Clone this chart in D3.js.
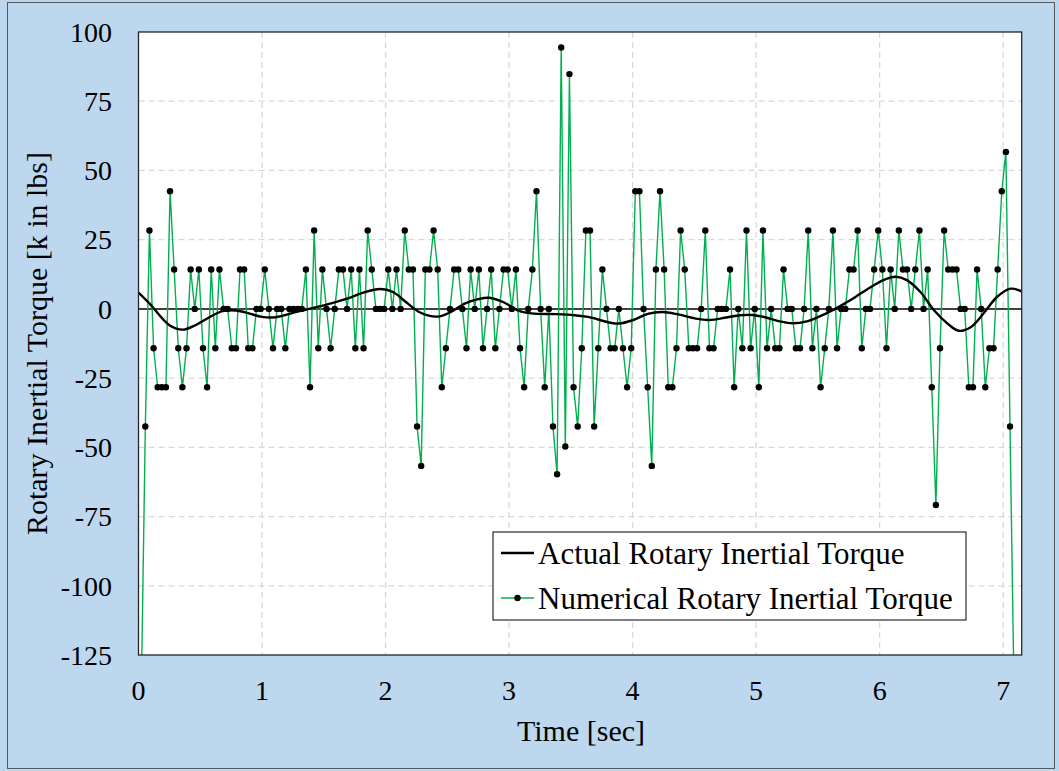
<!DOCTYPE html>
<html>
<head>
<meta charset="utf-8">
<script src="https://cdn.jsdelivr.net/npm/d3@7"></script>
<style>
  body { margin: 0; background: #bdd7ee; }
  svg { display: block; }
  text { font-family: "Liberation Serif", "Times New Roman", serif; fill: #000; }
</style>
</head>
<body>
<svg id="chart" width="1059" height="771"></svg>
<script>
// Numerical series: sampled at a fixed step, first and last samples fall below the axis floor
let numStart = 0.022;
let numStep = 1 / 30;
let numValues = [
    -140, -42.5, 28.3, -14.2, -28.3, -28.3, -28.3, 42.5, 14.2, -14.2,
    -28.3, -14.2, 14.2, 0, 14.2, -14.2, -28.3, 14.2, -14.2, 14.2,
    0, 0, -14.2, -14.2, 14.2, 14.2, -14.2, -14.2, 0, 0,
    14.2, 0, -14.2, 0, 0, -14.2, 0, 0, 0, 0,
    14.2, -28.3, 28.3, -14.2, 14.2, 0, -14.2, 0, 14.2, 14.2,
    0, 14.2, -14.2, 14.2, -14.2, 28.3, 14.2, 0, 0, 0,
    14.2, 0, 14.2, 0, 28.3, 14.2, 14.2, -42.5, -56.7, 14.2,
    14.2, 28.3, 14.2, -28.3, -14.2, 0, 14.2, 14.2, 0, -14.2,
    14.2, 0, 14.2, -14.2, 0, 14.2, -14.2, 0, 14.2, 14.2,
    0, 14.2, -14.2, -28.3, 0, 14.2, 42.5, 0, -28.3, 0,
    -42.5, -59.7, 94.4, -49.7, 84.8, -28.3, -42.5, -14.2, 28.3, 28.3,
    -42.5, -14.2, 14.2, 0, -14.2, -14.2, 0, -14.2, -28.3, -14.2,
    42.5, 42.5, 0, -28.3, -56.7, 14.2, 42.5, 14.2, -28.3, -28.3,
    -14.2, 28.3, 14.2, -14.2, -14.2, -14.2, 0, 28.3, -14.2, -14.2,
    0, 0, 0, 14.2, -28.3, 0, -14.2, 28.3, -14.2, 0,
    -28.3, 28.3, -14.2, 0, -14.2, -14.2, 14.2, 0, 0, -14.2,
    -14.2, 0, 28.3, -14.2, 0, -28.3, -14.2, 0, 28.3, -14.2,
    0, 0, 14.2, 14.2, 28.3, -14.2, 0, 0, 14.2, 28.3,
    14.2, -14.2, 14.2, 0, 28.3, 14.2, 14.2, 0, 14.2, 28.3,
    0, 14.2, -28.3, -70.8, -14.2, 28.3, 14.2, 14.2, 14.2, 0,
    0, -28.3, -28.3, 14.2, 0, -28.3, -14.2, -14.2, 14.2, 42.5,
    56.7, -42.5, -140
];

// Actual series: smooth curve read at these times
let actTimes = [0, 0.09, 0.25, 0.36, 0.46, 0.57, 0.68, 0.79, 0.90, 1.0,
    1.11, 1.28, 1.42, 1.55, 1.69, 1.82, 1.96, 2.06, 2.17, 2.28,
    2.42, 2.53, 2.64, 2.75, 2.84, 2.96, 3.07, 3.18, 3.39, 3.53,
    3.64, 3.81, 3.89, 4.0, 4.13, 4.24, 4.37, 4.51, 4.62, 4.76,
    4.87, 4.97, 5.08, 5.19, 5.30, 5.41, 5.51, 5.62, 5.73, 5.81,
    5.93, 6.03, 6.13, 6.22, 6.33, 6.44, 6.55, 6.64, 6.74, 6.85,
    6.95, 7.06, 7.16];
let actValues = [5.9, 1.9, -5.9, -7.5, -5.9, -3.1, -0.8, -0.6, -1.7, -2.9,
    -3.0, -1.1, 0.4, 1.9, 3.7, 5.9, 7.2, 6.1, 2.3, -1.3,
    -2.8, -1.1, 1.9, 3.5, 4.0, 2.3, -0.5, -1.6, -1.9, -2.3,
    -2.9, -4.9, -5.3, -4.1, -1.7, -1.1, -2.0, -3.5, -4.0, -3.1,
    -2.3, -2.2, -3.1, -4.5, -5.2, -4.5, -2.8, -0.5, 2.3, 4.5,
    7.9, 10.4, 11.6, 10.4, 6.1, -0.5, -5.3, -7.9, -6.5, -1.1,
    4.3, 7.3, 6.1];

let xTicks = [0, 1, 2, 3, 4, 5, 6, 7];
let yTicks = [-125, -100, -75, -50, -25, 0, 25, 50, 75, 100];

let numData = numValues.map(function (v, i) { return { t: numStart + i * numStep, v: v }; });
let actData = actTimes.map(function (t, i) { return { t: t, v: actValues[i] }; });

let svg = d3.select("#chart");
let W = 1059, H = 771;
let plot = { left: 138.5, right: 1021.7, top: 32, bottom: 655 };

let x = d3.scaleLinear().domain([0, 7.15]).range([plot.left, plot.right]);
let y = d3.scaleLinear().domain([-125, 100]).range([plot.bottom, plot.top]);

// outer chart frame
svg.append("rect")
    .attr("x", 0).attr("y", 0).attr("width", W).attr("height", H)
    .attr("fill", "#bdd7ee");
svg.append("rect")
    .attr("x", 7.5).attr("y", 2.5).attr("width", 1047).attr("height", 766)
    .attr("fill", "none").attr("stroke", "#595959").attr("stroke-width", 1);

// plot area
svg.append("rect")
    .attr("x", plot.left).attr("y", plot.top)
    .attr("width", plot.right - plot.left).attr("height", plot.bottom - plot.top)
    .attr("fill", "#fff");

svg.append("clipPath").attr("id", "clip")
    .append("rect")
    .attr("x", plot.left).attr("y", plot.top)
    .attr("width", plot.right - plot.left).attr("height", plot.bottom - plot.top);

// grid
let grid = svg.append("g").attr("class", "grid");
grid.selectAll(".gx")
    .data(xTicks.filter(function (d) { return d > 0; }))
    .enter().append("line")
    .attr("x1", function (d) { return x(d); }).attr("x2", function (d) { return x(d); })
    .attr("y1", plot.top).attr("y2", plot.bottom)
    .attr("stroke", "#d9d9d9").attr("stroke-width", 1.3).attr("stroke-dasharray", "6,4");
grid.selectAll(".gy")
    .data(yTicks.filter(function (d) { return d > -125 && d < 100 && d !== 0; }))
    .enter().append("line")
    .attr("x1", plot.left).attr("x2", plot.right)
    .attr("y1", function (d) { return y(d); }).attr("y2", function (d) { return y(d); })
    .attr("stroke", "#d9d9d9").attr("stroke-width", 1.3).attr("stroke-dasharray", "6,4");

// zero line
svg.append("line")
    .attr("x1", plot.left).attr("x2", plot.right)
    .attr("y1", y(0)).attr("y2", y(0))
    .attr("stroke", "#000").attr("stroke-width", 1.5);

let series = svg.append("g").attr("clip-path", "url(#clip)");

let numLine = d3.line()
    .x(function (d) { return x(d.t); })
    .y(function (d) { return y(d.v); });

series.append("path")
    .datum(numData)
    .attr("d", numLine)
    .attr("fill", "none")
    .attr("stroke", "#00b050")
    .attr("stroke-width", 1.4)
    .attr("stroke-linejoin", "round");

let actLine = d3.line()
    .curve(d3.curveCatmullRom.alpha(0.5))
    .x(function (d) { return x(d.t); })
    .y(function (d) { return y(d.v); });

series.append("path")
    .datum(actData)
    .attr("d", actLine)
    .attr("fill", "none")
    .attr("stroke", "#000")
    .attr("stroke-width", 2.4);

series.selectAll(".dot")
    .data(numData)
    .enter().append("circle")
    .attr("class", "dot")
    .attr("cx", function (d) { return x(d.t); })
    .attr("cy", function (d) { return y(d.v); })
    .attr("r", 3.2)
    .attr("fill", "#000");

// plot border
svg.append("rect")
    .attr("x", plot.left).attr("y", plot.top)
    .attr("width", plot.right - plot.left).attr("height", plot.bottom - plot.top)
    .attr("fill", "none").attr("stroke", "#262626").attr("stroke-width", 1.3);

// tick labels
svg.append("g").selectAll("text")
    .data(yTicks)
    .enter().append("text")
    .attr("x", 112)
    .attr("y", function (d) { return y(d); })
    .attr("dy", "0.35em")
    .attr("text-anchor", "end")
    .attr("font-size", 28)
    .text(function (d) { return d; });

svg.append("g").selectAll("text")
    .data(xTicks)
    .enter().append("text")
    .attr("x", function (d) { return x(d); })
    .attr("y", 690)
    .attr("dy", "0.35em")
    .attr("text-anchor", "middle")
    .attr("font-size", 28)
    .text(function (d) { return d; });

// axis titles
svg.append("text")
    .attr("transform", "translate(36," + ((plot.top + plot.bottom) / 2) + ") rotate(-90)")
    .attr("text-anchor", "middle")
    .attr("dy", "0.35em")
    .attr("font-size", 30)
    .text("Rotary Inertial Torque [k in lbs]");

svg.append("text")
    .attr("x", 581)
    .attr("y", 730)
    .attr("dy", "0.35em")
    .attr("text-anchor", "middle")
    .attr("font-size", 30)
    .text("Time [sec]");

// legend
let lg = { x: 493, y: 532, w: 473, h: 88 };
let legend = svg.append("g");
legend.append("rect")
    .attr("x", lg.x).attr("y", lg.y).attr("width", lg.w).attr("height", lg.h)
    .attr("fill", "#fff").attr("stroke", "#000").attr("stroke-width", 1);

let row1 = lg.y + 21, row2 = lg.y + 66;
legend.append("line")
    .attr("x1", lg.x + 8).attr("x2", lg.x + 41)
    .attr("y1", row1).attr("y2", row1)
    .attr("stroke", "#000").attr("stroke-width", 2.4);
legend.append("text")
    .attr("x", lg.x + 45).attr("y", row1)
    .attr("dy", "0.35em")
    .attr("font-size", 31)
    .text("Actual Rotary Inertial Torque");

legend.append("line")
    .attr("x1", lg.x + 8).attr("x2", lg.x + 41)
    .attr("y1", row2).attr("y2", row2)
    .attr("stroke", "#00b050").attr("stroke-width", 1.4);
legend.append("circle")
    .attr("cx", lg.x + 24.5).attr("cy", row2).attr("r", 3.2)
    .attr("fill", "#000");
legend.append("text")
    .attr("x", lg.x + 45).attr("y", row2)
    .attr("dy", "0.35em")
    .attr("font-size", 31)
    .text("Numerical Rotary Inertial Torque");
</script>
</body>
</html>
